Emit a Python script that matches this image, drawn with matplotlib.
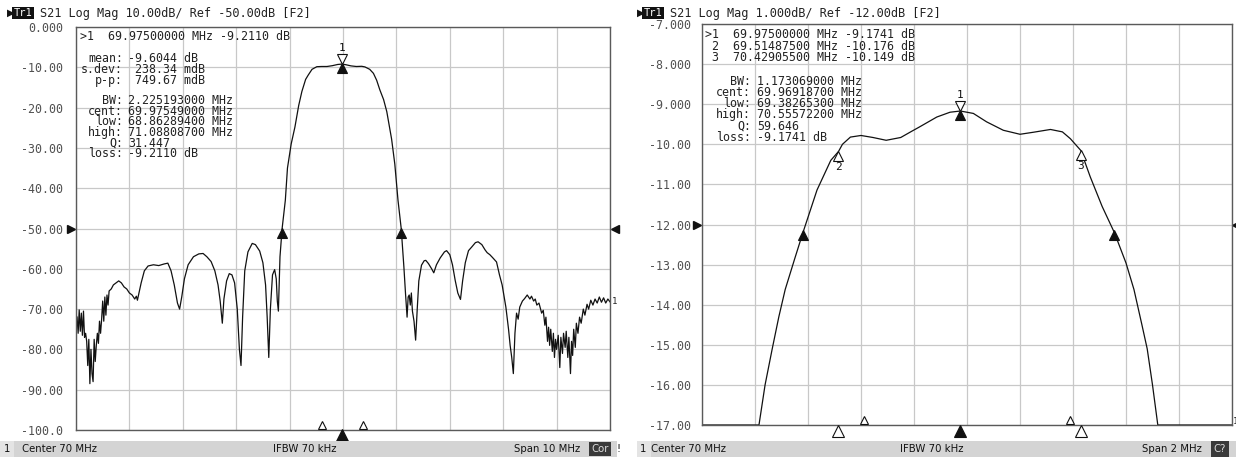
"""Two network-analyzer S21 screens side by side (10 MHz and 2 MHz span)."""
import matplotlib
matplotlib.use("Agg")
import matplotlib.pyplot as plt
import matplotlib.transforms as mtransforms
from matplotlib.patches import Rectangle

W, H = 1236, 457
MONO = "DejaVu Sans Mono"
GRID = "#c8c8c8"
FRAME = "#5a5a5a"
TICKCOL = "#505050"
BAR = "#d4d4d4"

# ---- left screen: 65..75 MHz, 10 dB/div ----
wide_freq = [
    65.00, 65.02, 65.04, 65.06, 65.08, 65.10, 65.12, 65.14, 65.16, 65.18,
    65.20, 65.22, 65.24, 65.26, 65.28, 65.30, 65.32, 65.34, 65.36, 65.38,
    65.40, 65.42, 65.44, 65.46, 65.48, 65.50, 65.52, 65.54, 65.56, 65.58,
    65.60, 65.62, 65.66, 65.70, 65.75, 65.80, 65.85, 65.90, 65.95, 66.00,
    66.05, 66.10, 66.13, 66.15, 66.18, 66.22, 66.28, 66.35, 66.45, 66.55,
    66.65, 66.72, 66.78, 66.84, 66.90, 66.94, 66.98, 67.03, 67.10, 67.20,
    67.30, 67.38, 67.45, 67.53, 67.60, 67.66, 67.70, 67.74, 67.77, 67.82,
    67.87, 67.92, 67.97, 68.02, 68.06, 68.09, 68.12, 68.16, 68.22, 68.30,
    68.36, 68.44, 68.50, 68.55, 68.58, 68.61, 68.64, 68.68, 68.72, 68.75,
    68.77, 68.79, 68.82, 68.86, 68.92, 68.96, 69.03, 69.10, 69.17, 69.23,
    69.30, 69.35, 69.42, 69.51, 69.60, 69.70, 69.80, 69.90, 69.975, 70.05,
    70.15, 70.25, 70.35, 70.41, 70.50, 70.57, 70.63, 70.69, 70.76, 70.82,
    70.91, 70.97, 71.03, 71.09, 71.14, 71.17, 71.20, 71.22, 71.24, 71.26,
    71.28, 71.30, 71.33, 71.36, 71.39, 71.42, 71.47, 71.52, 71.55, 71.60,
    71.66, 71.70, 71.75, 71.82, 71.90, 71.94, 72.00, 72.05, 72.10, 72.15,
    72.20, 72.24, 72.29, 72.35, 72.41, 72.48, 72.53, 72.60, 72.66, 72.70,
    72.75, 72.80, 72.875, 72.93, 72.98, 73.05, 73.10, 73.13, 73.16, 73.19,
    73.22, 73.25, 73.28, 73.31, 73.36, 73.40, 73.45, 73.50, 73.53, 73.57,
    73.60, 73.63, 73.67, 73.72, 73.75, 73.78, 73.80, 73.83, 73.85, 73.87,
    73.89, 73.92, 73.94, 73.96, 73.98, 74.00, 74.03, 74.06, 74.08, 74.11,
    74.13, 74.16, 74.18, 74.21, 74.23, 74.26, 74.28, 74.30, 74.32, 74.35,
    74.37, 74.40, 74.43, 74.46, 74.50, 74.53, 74.57, 74.60, 74.64, 74.68,
    74.72, 74.76, 74.80, 74.84, 74.88, 74.92, 74.96, 75.00,
]
wide_db = [
    -71.5, -72.0, -76.0, -70.2, -75.5, -71.0, -76.5, -70.5, -77.0, -76.0,
    -78.0, -84.0, -77.5, -88.5, -80.0, -86.0, -88.0, -77.5, -83.0, -79.0,
    -76.0, -78.5, -73.0, -76.0, -72.5, -68.0, -73.0, -67.0, -71.5, -66.5,
    -69.0, -65.5, -65.0, -64.0, -63.5, -63.0, -63.5, -64.5, -65.0, -66.0,
    -66.5, -67.5, -66.8, -67.8, -66.0, -63.5, -60.5, -59.3, -59.0, -59.2,
    -58.8, -58.6, -60.5, -64.0, -68.5, -70.0, -67.0, -62.5, -59.0, -57.0,
    -56.3, -56.2, -57.0, -58.2, -60.5, -64.0, -68.0, -73.5, -67.5, -63.0,
    -61.2, -61.5, -63.5, -70.0, -80.0, -84.0, -72.0, -60.5, -55.8, -53.7,
    -54.0, -55.6, -58.5, -64.0, -72.0, -82.0, -70.0, -61.5, -60.2, -62.5,
    -68.0, -70.5, -57.0, -50.0, -43.0, -35.0, -29.0, -24.8, -19.5, -16.0,
    -13.0, -11.9, -10.5, -9.85, -9.8, -9.8, -9.6, -9.3, -9.21, -9.35,
    -9.65, -9.8, -9.75, -9.9, -10.5, -11.5, -13.2, -15.6, -18.0, -21.0,
    -27.8, -34.0, -43.0, -50.0, -59.5, -66.0, -72.0, -67.0, -66.5, -69.0,
    -66.0, -70.5, -73.0, -77.7, -70.0, -63.0, -59.1, -58.0, -57.9, -58.7,
    -60.0, -61.0, -59.0, -57.3, -55.8, -55.5, -56.5, -59.0, -62.8, -66.0,
    -67.6, -63.0, -58.5, -55.5, -54.6, -53.5, -53.3, -54.0, -55.3, -56.0,
    -56.5, -57.2, -58.3, -61.5, -64.0, -69.5, -75.0, -79.0, -82.0, -86.0,
    -76.0, -71.0, -72.5, -69.5, -68.0, -67.4, -66.5, -67.5, -66.8, -68.0,
    -67.5, -69.0, -68.5, -71.0, -70.3, -74.0, -72.0, -78.0, -74.5, -79.0,
    -75.0, -80.5, -76.0, -82.0, -77.5, -80.0, -76.5, -84.5, -77.0, -81.0,
    -76.0, -79.5, -75.5, -82.0, -77.0, -86.0, -78.0, -81.5, -75.0, -79.5,
    -73.5, -76.0, -72.0, -73.5, -70.0, -71.5, -68.8, -70.0, -67.8, -69.0,
    -67.5, -68.5, -67.0, -68.3, -67.2, -68.5, -67.5, -68.2,
]
wide_yticks = [0, -10, -20, -30, -40, -50, -60, -70, -80, -90, -100]
wide_ylabels = ["0.000", "-10.00", "-20.00", "-30.00", "-40.00", "-50.00",
                "-60.00", "-70.00", "-80.00", "-90.00", "-100.0"]
wide_mkr = (69.975, -9.211)
wide_bw = [(68.8629, -50.0), (71.0881, -50.0)]
wide_stat_edges = [69.61, 70.37]
wide_ref = -50.0

# ---- right screen: 69..71 MHz, 1 dB/div ----
zoom_freq = [
    69.00, 69.215, 69.238, 69.265, 69.29, 69.314, 69.35, 69.381, 69.434, 69.486,
    69.515, 69.53, 69.56, 69.60, 69.645, 69.695, 69.75, 69.79, 69.82, 69.886,
    69.936, 69.975, 70.024, 70.074, 70.137, 70.20, 70.25, 70.315, 70.36, 70.39,
    70.429, 70.465, 70.51, 70.556, 70.60, 70.63, 70.66, 70.68, 70.70, 70.72,
    71.00,
]
zoom_db = [
    -17.0, -17.0, -16.0, -15.1, -14.3, -13.62, -12.85, -12.2, -11.14, -10.4,
    -10.18, -10.0, -9.82, -9.78, -9.83, -9.9, -9.83, -9.68, -9.57, -9.32,
    -9.2, -9.17, -9.23, -9.44, -9.65, -9.75, -9.7, -9.63, -9.69, -9.86,
    -10.15, -10.81, -11.55, -12.2, -12.96, -13.62, -14.5, -15.1, -16.0, -17.0,
    -17.0,
]
zoom_yticks = [-7, -8, -9, -10, -11, -12, -13, -14, -15, -16, -17]
zoom_ylabels = ["-7.000", "-8.000", "-9.000", "-10.00", "-11.00", "-12.00",
                "-13.00", "-14.00", "-15.00", "-16.00", "-17.00"]
zoom_mkr = (69.975, -9.1741)
zoom_sub_mkrs = [(69.51487, -10.176, "2"), (70.42906, -10.149, "3")]
zoom_bw = [(69.38265, -12.17), (70.55572, -12.17)]
zoom_stat_edges = [69.61, 70.39]
zoom_ref = -12.0

left_title = "S21 Log Mag 10.00dB/ Ref -50.00dB [F2]"
right_title = "S21 Log Mag 1.000dB/ Ref -12.00dB [F2]"
left_top = [">1  69.97500000 MHz -9.2110 dB"]
right_top = [">1  69.97500000 MHz -9.1741 dB",
             " 2  69.51487500 MHz -10.176 dB",
             " 3  70.42905500 MHz -10.149 dB"]
left_stat_keys = ["mean:", "s.dev:", "p-p:"]
left_stat_vals = ["-9.6044 dB", " 238.34 mdB", " 749.67 mdB"]
left_bw_keys = ["BW:", "cent:", "low:", "high:", "Q:", "loss:"]
left_bw_vals = ["2.225193000 MHz", "69.97549000 MHz", "68.86289400 MHz",
                "71.08808700 MHz", "31.447", "-9.2110 dB"]
right_bw_keys = ["BW:", "cent:", "low:", "high:", "Q:", "loss:"]
right_bw_vals = ["1.173069000 MHz", "69.96918700 MHz", "69.38265300 MHz",
                 "70.55572200 MHz", "59.646", "-9.1741 dB"]

fig = plt.figure(figsize=(W / 100, H / 100), dpi=100)
fig.patch.set_facecolor("white")


def px(x, y):
    return x / W, 1 - y / H


def ftext(x, y, s, **kw):
    kw.setdefault("family", MONO)
    kw.setdefault("fontsize", 8.4)
    kw.setdefault("va", "center")
    kw.setdefault("color", "#222222")
    fx, fy = px(x, y)
    return fig.text(fx, fy, s, **kw)


def block(x, y_first, lines, pitch, ha="left"):
    # one multi-line text; pitch is the line-to-line distance in pixels
    size = 8.4
    em = size * 100 / 72
    ls = pitch / (1.16 * em)
    fx, fy = px(x, y_first - 0.42 * em)
    fig.text(fx, fy, "\n".join(lines), family=MONO, fontsize=size, ha=ha,
             va="top", multialignment=ha, linespacing=ls, color="#222222")


def screen(rect, freq, db, x0, x1, yticks, ylabels, pad):
    l, t, r, b = rect
    ax = fig.add_axes([l / W, 1 - b / H, (r - l) / W, (b - t) / H])
    ax.plot(freq, db, color="#111111", lw=0.9)
    ax.set_xlim(x0, x1)
    ax.set_ylim(yticks[-1], yticks[0])
    step = (x1 - x0) / 10
    ax.set_xticks([x0 + i * step for i in range(11)])
    ax.set_xticklabels([])
    ax.set_yticks(yticks)
    ax.set_yticklabels(ylabels, family=MONO, fontsize=8.4, color=TICKCOL)
    ax.tick_params(length=0, pad=pad)
    ax.grid(True, color=GRID, lw=0.9)
    ax.set_axisbelow(True)
    for s in ax.spines.values():
        s.set_color(FRAME)
        s.set_linewidth(1.0)
    return ax


def tri(ax, x, y, marker, dy, filled=True, ms=6.5, clip=True):
    tr = mtransforms.offset_copy(ax.transData, fig=fig, x=0, y=-dy, units="dots")
    ax.plot([x], [y], marker=marker, ms=ms, transform=tr, ls="none",
            mfc="#111111" if filled else "white", mec="#111111", mew=0.8,
            clip_on=clip, zorder=5)


def label(ax, x, y, s, dy):
    tr = mtransforms.offset_copy(ax.transData, fig=fig, x=0, y=-dy, units="dots")
    ax.text(x, y, s, transform=tr, ha="center", va="center", family=MONO,
            fontsize=8, color="#111111", clip_on=False, zorder=6)


def bar_tri(ax, x, ypx, marker, filled, ms):
    # triangle at data x, fixed pixel height below/above the frame
    trans = mtransforms.blended_transform_factory(ax.transData, fig.transFigure)
    ax.plot([x], [1 - ypx / H], marker=marker, ms=ms, transform=trans, ls="none",
            mfc="#111111" if filled else "white", mec="#111111", mew=0.8,
            clip_on=False, zorder=6)


def ref_arrows(ax, y, left_px, right_px):
    trans = mtransforms.blended_transform_factory(fig.transFigure, ax.transData)
    ax.plot([left_px / W], [y], marker=">", ms=6, color="#111111", ls="none",
            transform=trans, clip_on=False)
    ax.plot([right_px / W], [y], marker="<", ms=6, color="#111111", ls="none",
            transform=trans, clip_on=False)


axL = screen((76, 27, 610, 430), wide_freq, wide_db, 65, 75,
             wide_yticks, wide_ylabels, 9.5)
axR = screen((702, 24, 1232, 425), zoom_freq, zoom_db, 69, 71,
             zoom_yticks, zoom_ylabels, 8)

# markers on the wide trace
mx, my = wide_mkr
tri(axL, mx, my, "^", 4)
tri(axL, mx, my, "v", -5, filled=False)
label(axL, mx, my, "1", -16)
for fx_, fy_ in wide_bw:
    tri(axL, fx_, fy_, "^", 4)
bar_tri(axL, mx, 435, "^", True, 8)
for e in wide_stat_edges:
    bar_tri(axL, e, 425, "^", False, 5.5)

# markers on the zoomed trace
mx, my = zoom_mkr
tri(axR, mx, my, "^", 4)
tri(axR, mx, my, "v", -5, filled=False)
label(axR, mx, my, "1", -16)
for fx_, fy_, name in zoom_sub_mkrs:
    tri(axR, fx_, fy_, "^", 5, filled=False)
    label(axR, fx_, fy_, name, 16)
for fx_, fy_ in zoom_bw:
    tri(axR, fx_, fy_, "^", 4)
bar_tri(axR, mx, 431, "^", True, 8)
for fx_, fy_, _ in zoom_sub_mkrs:
    bar_tri(axR, fx_, 431, "^", False, 8)
for e in zoom_stat_edges:
    bar_tri(axR, e, 420, "^", False, 5.5)

# reference level arrows and trace-end labels
ref_arrows(axL, wide_ref, 71, 615)
ref_arrows(axR, zoom_ref, 697, 1236)
ftext(612, 302, "1", fontsize=6.5)
ftext(1233, 421, "1", fontsize=6.5)

# titles
for x0, title in ((0, left_title), (630, right_title)):
    ftext(x0 + 11, 13, "\u25B6", family="DejaVu Sans", fontsize=7.5, ha="center", color="#111111")
    ftext(x0 + 23, 13, "Tr1", fontsize=7.5, ha="center", color="white",
          bbox=dict(boxstyle="square,pad=0.12", fc="#111111", ec="none"))
    ftext(x0 + 40, 13, title, fontsize=8.6)

# marker readouts
block(80, 35, left_top, 10.3)
block(123, 57, left_stat_keys, 10.8, ha="right")
block(128, 57, left_stat_vals, 10.8)
block(123, 99, left_bw_keys, 10.3, ha="right")
block(128, 99, left_bw_vals, 10.3)

block(705, 33, right_top, 11.5)
block(751, 80, right_bw_keys, 11, ha="right")
block(757, 80, right_bw_vals, 11)

# status bars
for (bx0, bx1) in ((0, 617), (637, 1236)):
    fx0, fy0 = px(bx0, 457)
    fig.patches.append(Rectangle((fx0, fy0), (bx1 - bx0) / W, 16 / H,
                                 transform=fig.transFigure, fc=BAR, ec="none"))
    fig.patches.append(Rectangle((fx0, fy0), 14 / W, 16 / H,
                                 transform=fig.transFigure, fc="#e4e4e4", ec="none"))
SANS = dict(family="DejaVu Sans", fontsize=7.3, color="#111111")
ftext(4, 449, "1", **SANS)
ftext(22, 449, "Center 70 MHz", **SANS)
ftext(305, 449, "IFBW 70 kHz", ha="center", **SANS)
ftext(514, 449, "Span 10 MHz", **SANS)
ftext(600, 449, "Cor", ha="center", family="DejaVu Sans", fontsize=7.3, color="#dddddd",
      bbox=dict(boxstyle="square,pad=0.2", fc="#3a3a3a", ec="none"))
ftext(618, 449, "!", ha="center", **SANS)
ftext(640, 449, "1", **SANS)
ftext(651, 449, "Center 70 MHz", **SANS)
ftext(932, 449, "IFBW 70 kHz", ha="center", **SANS)
ftext(1142, 449, "Span 2 MHz", **SANS)
ftext(1220, 449, "C?", ha="center", family="DejaVu Sans", fontsize=7.3, color="#dddddd",
      bbox=dict(boxstyle="square,pad=0.25", fc="#3a3a3a", ec="none"))

fig.savefig("out.png", dpi=100, facecolor="white")
